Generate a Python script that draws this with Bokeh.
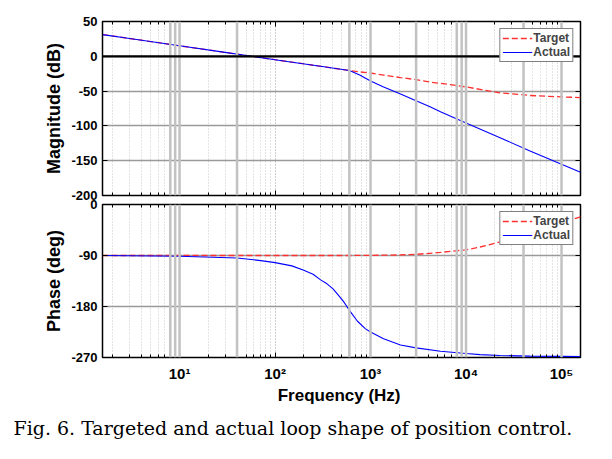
from bokeh.plotting import figure
from bokeh.models import (Span, Legend, LegendItem, LinearAxis, LogAxis,
                          FixedTicker, Title, Range1d)
from bokeh.layouts import column
from bokeh.embed import file_html
from bokeh.resources import INLINE

# ---------------- data ----------------
mag_freq = [1.56, 3, 10, 30, 57, 100, 187, 300, 450, 600, 770, 1000, 1370,
            2060, 3000, 4250, 5400, 10000, 22700, 46800, 100000, 158000]
target_mag = [31.2, 25.6, 15.1, 5.6, 0.0, -4.9, -10.3, -14.4, -17.9, -20.3,
              -22.4, -24.0, -27.0, -30.6, -33.5, -37.2, -38.8, -44.0, -52.5,
              -56.3, -58.3, -59.3]
actual_mag = [31.2, 25.6, 15.1, 5.6, 0.0, -4.9, -10.3, -14.4, -17.9, -20.5,
              -27.0, -35.5, -44.0, -54.0, -64.0, -73.0, -79.5, -96.0, -117.0,
              -136.0, -155.0, -166.5]

ph_freq = [1.56, 10, 40, 71, 100, 150, 200, 250, 300, 350, 405, 460, 520, 570,
           620, 730, 880, 1000, 1370, 2060, 3000, 5400, 10000, 14000, 22700,
           46800, 100000, 158000]
target_ph = [-90, -90, -90, -90, -90, -90, -90, -90, -90, -90, -90, -90, -90,
             -90, -90, -89.9, -89.8, -89.7, -89.5, -89.0, -88.0, -84.5, -80.0,
             -75.0, -66.0, -47.0, -31.0, -22.0]
actual_ph = [-90, -91.2, -94.3, -99, -102.6, -108.3, -116, -123, -133, -140,
             -149, -160, -171, -181, -190, -206, -219, -225, -237, -248, -253,
             -259, -263, -265, -266.5, -267.5, -268, -268.5]

x_start, x_end = 1.56, 1.58e5
decades = [1, 10, 100, 1000, 10000, 100000]
decade_labels = ["10\u2070", "10\u00b9", "10\u00b2", "10\u00b3", "10\u2074", "10\u2075"]
mag_ticks = [50, 0, -50, -100, -150, -200]
phase_ticks = [0, -90, -180, -270]
heavy_lines = [8, 9, 10, 40, 600, 1000, 3000, 8000, 9000, 10000, 40000, 100000]
caption = "Fig. 6. Targeted and actual loop shape of position control."

minor = [d * k for d in decades for k in range(2, 10)]

FONT = "Liberation Sans"


def hide_labels(ax):
    ax.major_label_text_font_size = "1px"
    ax.major_label_text_color = None
    ax.major_label_standoff = 0


def make_fig(height, yr, yticks, ylabel, bt, bb, show_x):
    p = figure(width=604, height=height, x_axis_type="log",
               x_range=Range1d(x_start, x_end), y_range=Range1d(*yr),
               output_backend="svg", toolbar_location=None,
               min_border_left=102, min_border_right=24,
               min_border_top=bt, min_border_bottom=bb)
    p.outline_line_color = "black"
    p.outline_line_width = 1.5
    p.background_fill_color = "white"

    p.xaxis.ticker = FixedTicker(ticks=decades, minor_ticks=minor)
    p.yaxis.ticker = FixedTicker(ticks=yticks)
    p.yaxis.major_label_overrides = {v: str(v) for v in yticks}
    for ax in (p.xaxis[0], p.yaxis[0]):
        ax.major_tick_in = 5
        ax.major_tick_out = 0
        ax.minor_tick_in = 3
        ax.minor_tick_out = 0
        ax.axis_line_color = "black"
        ax.major_tick_line_color = "black"
        ax.minor_tick_line_color = "black"
        ax.major_label_text_font = FONT
        ax.major_label_text_font_style = "bold"
        ax.major_label_text_font_size = "13px"
        ax.major_label_text_color = "black"
        ax.axis_label_text_font = FONT
        ax.axis_label_text_font_style = "bold"
        ax.axis_label_text_color = "black"
    p.yaxis.major_label_standoff = 5
    p.yaxis.axis_label = ylabel
    p.yaxis.axis_label_text_font_size = "18px"
    p.yaxis.axis_label_standoff = 4
    if show_x:
        p.xaxis.major_label_overrides = {d: l for d, l in zip(decades, decade_labels)}
        p.xaxis.major_label_text_font_size = "15px"
        p.xaxis.major_label_standoff = 7
        p.xaxis.axis_label = "Frequency  (Hz)"
        p.xaxis.axis_label_text_font_size = "17px"
        p.xaxis.axis_label_standoff = 1
    else:
        hide_labels(p.xaxis[0])

    # box ticks on the top and right side
    top = LogAxis(ticker=FixedTicker(ticks=decades, minor_ticks=minor),
                  major_tick_in=5, major_tick_out=0,
                  minor_tick_in=3, minor_tick_out=0, axis_line_color=None)
    hide_labels(top)
    right = LinearAxis(ticker=FixedTicker(ticks=yticks), major_tick_in=5,
                       major_tick_out=0, minor_tick_in=0, minor_tick_out=0,
                       axis_line_color=None)
    hide_labels(right)
    p.add_layout(top, "above")
    p.add_layout(right, "right")

    p.xgrid.grid_line_color = "#9a9a9a"
    p.xgrid.grid_line_dash = "1 2"
    p.xgrid.minor_grid_line_color = "#c8c8c8"
    p.xgrid.minor_grid_line_dash = "1 2"
    p.ygrid.grid_line_color = "#9a9a9a"
    p.ygrid.grid_line_width = 1.3

    for v in heavy_lines:
        p.add_layout(Span(location=v, dimension="height",
                          line_color="#c2c2c2", line_width=2.5))
    return p


def add_legend(p, r_t, r_a):
    lg = Legend(items=[LegendItem(label="Target", renderers=[r_t]),
                       LegendItem(label="Actual", renderers=[r_a])],
                location="top_right", margin=7, padding=2, spacing=0,
                label_standoff=1, glyph_width=30, glyph_height=14,
                label_height=14, label_text_font=FONT,
                label_text_font_style="bold", label_text_font_size="12px",
                border_line_color="black", border_line_width=1.2,
                background_fill_alpha=1.0)
    p.add_layout(lg)


# ---------------- magnitude ----------------
p1 = make_fig(210, (-200, 50), mag_ticks, "Magnitude (dB)", 21, 15, False)
p1.add_layout(Span(location=0, dimension="width", line_color="black",
                   line_width=2.2))
rt1 = p1.line(mag_freq, target_mag, line_color="#ff3030", line_width=1.3,
              line_dash="6 3")
ra1 = p1.line(mag_freq, actual_mag, line_color="#0000ff", line_width=1.1)
add_legend(p1, rt1, ra1)

# ---------------- phase ----------------
p2 = make_fig(262, (-270, 0), phase_ticks, "Phase (deg)", 14, 95, True)
p2.border_fill_alpha = 0.0
p2.margin = (-20, 0, 0, 0)
rt2 = p2.line(ph_freq, target_ph, line_color="#ff3030", line_width=1.3,
              line_dash="6 3")
ra2 = p2.line(ph_freq, actual_ph, line_color="#0000ff", line_width=1.1)
add_legend(p2, rt2, ra2)

cap = Title(text=caption, align="left", offset=-89, standoff=14,
            text_font="DejaVu Serif", text_font_size="19px",
            text_font_style="normal", text_color="black")
p2.add_layout(cap, "below")

layout = column(p1, p2)
open("out.html", "w").write(file_html(layout, INLINE))
